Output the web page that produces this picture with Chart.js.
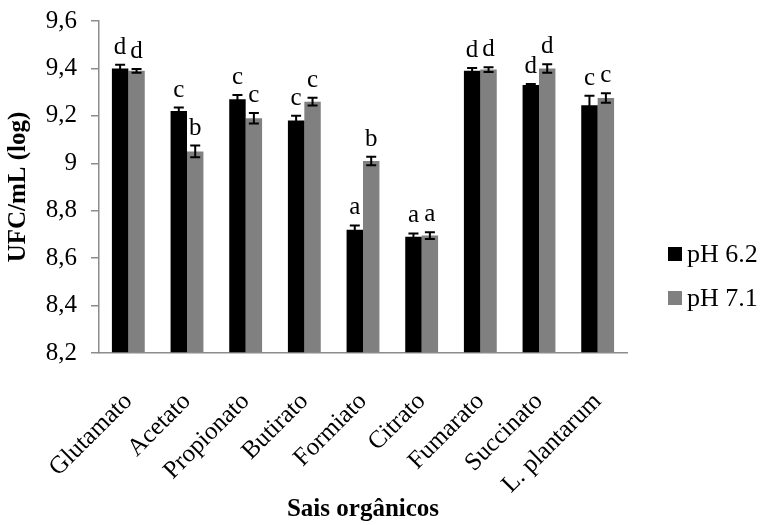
<!DOCTYPE html>
<html>
<head>
<meta charset="utf-8">
<script src="https://cdn.jsdelivr.net/npm/chart.js@4"></script>
<style>
  html, body { margin: 0; padding: 0; background: #fff; }
  #wrap { width: 763px; height: 525px; }
</style>
</head>
<body>
<div id="wrap"><canvas id="chart"></canvas></div>
<script>
// Categories and series
const categories = ["Glutamato", "Acetato", "Propionato", "Butirato", "Formiato",
                    "Citrato", "Fumarato", "Succinato", "L. plantarum"];
const ph62     = [9.40, 9.22, 9.27, 9.18, 8.72, 8.69, 9.39, 9.33, 9.245];
const ph62Err  = [0.015, 0.015, 0.018, 0.02, 0.018, 0.014, 0.012, 0.004, 0.04];
const ph62Sig  = ["d", "c", "c", "c", "a", "a", "d", "d", "c"];
const ph71     = [9.39, 9.05, 9.19, 9.26, 9.01, 8.695, 9.395, 9.40, 9.275];
const ph71Err  = [0.008, 0.025, 0.022, 0.016, 0.018, 0.014, 0.01, 0.018, 0.02];
const ph71Sig  = ["d", "b", "c", "c", "b", "a", "d", "d", "c"];
const yTicks   = [8.2, 8.4, 8.6, 8.8, 9.0, 9.2, 9.4, 9.6];
const seriesNames = ["pH 6.2", "pH 7.1"];

const FONT = "'Liberation Serif', 'Times New Roman', serif";
const AXIS_GREY = "#8c8c8c";
const COLORS = ["#000000", "#808080"];

// Error bars + significance letters, drawn through the y scale
const errorBars = {
  id: "errorBars",
  afterDatasetsDraw(chart) {
    const { ctx, scales: { y } } = chart;
    const errs = [ph62Err, ph71Err];
    const sigs = [ph62Sig, ph71Sig];
    ctx.save();
    chart.data.datasets.forEach((ds, di) => {
      const meta = chart.getDatasetMeta(di);
      meta.data.forEach((bar, i) => {
        const v = ds.data[i];
        const top = y.getPixelForValue(v + errs[di][i]);
        const bot = y.getPixelForValue(v - errs[di][i]);
        const x = bar.x;
        ctx.strokeStyle = "#000";
        ctx.lineWidth = 2;
        ctx.beginPath();
        ctx.moveTo(x, top); ctx.lineTo(x, bot);
        ctx.moveTo(x - 5, top); ctx.lineTo(x + 5, top);
        ctx.moveTo(x - 5, bot); ctx.lineTo(x + 5, bot);
        ctx.stroke();
        ctx.fillStyle = "#000";
        ctx.font = "25px " + FONT;
        ctx.textAlign = "center";
        ctx.textBaseline = "alphabetic";
        ctx.fillText(sigs[di][i], x, top - 11);
      });
    });
    ctx.restore();
  },
};

// Legend to the right of the plot area
const sideLegend = {
  id: "sideLegend",
  afterDraw(chart) {
    const { ctx, chartArea } = chart;
    const x0 = chartArea.right + 41;
    ctx.save();
    ctx.font = "26px " + FONT;
    ctx.textBaseline = "middle";
    ctx.textAlign = "left";
    seriesNames.forEach((name, i) => {
      const cy = 254 + i * 44;
      ctx.fillStyle = COLORS[i];
      ctx.fillRect(x0, cy - 7, 14, 14);
      ctx.fillStyle = "#000";
      ctx.fillText(name, x0 + 19, cy + 1);
    });
    ctx.restore();
  },
};

new Chart(document.getElementById("chart"), {
  type: "bar",
  data: {
    labels: categories,
    datasets: [
      { label: seriesNames[0], data: ph62, backgroundColor: COLORS[0], base: yTicks[0] },
      { label: seriesNames[1], data: ph71, backgroundColor: COLORS[1], base: yTicks[0] },
    ],
  },
  options: {
    responsive: true,
    maintainAspectRatio: false,
    animation: false,
    layout: { padding: { top: 0, right: 136, bottom: 0, left: 4 } },
    datasets: { bar: { barPercentage: 1.0, categoryPercentage: 0.56 } },
    plugins: {
      legend: { display: false },
      tooltip: { enabled: false },
    },
    scales: {
      x: {
        afterFit: axis => { axis.height = 172; },
        grid: { display: false },
        border: { color: AXIS_GREY, width: 1.5 },
        ticks: {
          color: "#000",
          font: { family: FONT, size: 25 },
          maxRotation: 45,
          minRotation: 45,
          padding: 26,
          autoSkip: false,
        },
        title: {
          display: true,
          text: "Sais orgânicos",
          color: "#000",
          font: { family: FONT, size: 25, weight: "bold" },
          padding: { top: 0, bottom: 0 },
        },
      },
      y: {
        min: yTicks[0],
        max: yTicks[yTicks.length - 1],
        afterBuildTicks: axis => { axis.ticks = yTicks.map(v => ({ value: v })); },
        afterFit: axis => { axis.width = 95; axis.paddingTop = 21; },
        grid: {
          drawOnChartArea: false,
          drawTicks: true,
          tickLength: 8,
          color: AXIS_GREY,
          lineWidth: 1.5,
        },
        border: { color: AXIS_GREY, width: 1.5 },
        ticks: {
          color: "#000",
          font: { family: FONT, size: 25 },
          padding: 14,
          callback: v => String(Number(v.toFixed(1))).replace(".", ","),
        },
        title: {
          display: true,
          text: "UFC/mL (log)",
          color: "#000",
          font: { family: FONT, size: 25, weight: "bold" },
          padding: { top: 0, bottom: 0 },
        },
      },
    },
  },
  plugins: [errorBars, sideLegend],
});
</script>
</body>
</html>
